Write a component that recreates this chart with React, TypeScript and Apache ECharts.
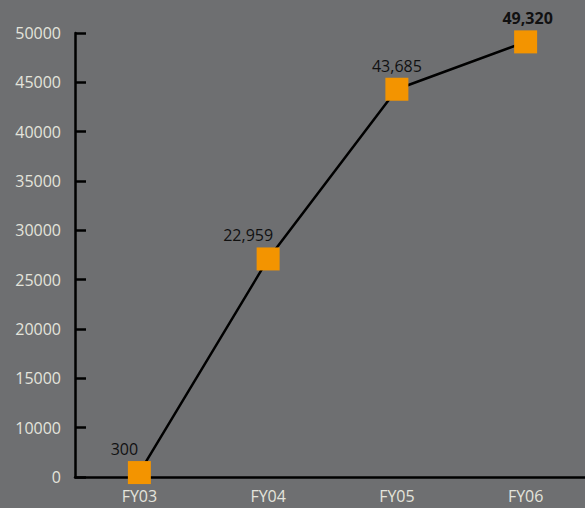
import React, { useEffect, useRef } from "react";
import * as echarts from "echarts";

const categories = ["FY03", "FY04", "FY05", "FY06"];
// values as plotted in the picture (on the source's uneven axis)
const values = [900, 27100, 44300, 49100];
const labelTexts = ["300", "22,959", "43,685", "49,320"];
const labelBold = [false, false, false, true];
const labelDx = [-15, -20, 0, 2];
// tick labels of the source axis: evenly spaced, 5000 skipped
const yTickLabels = [0, 10000, 15000, 20000, 25000, 30000, 35000, 40000, 45000, 50000];

// map a real value onto the evenly spaced tick index scale (each step = 1)
function toAxis(v: number): number {
  for (let i = 0; i < yTickLabels.length - 1; i++) {
    const a = yTickLabels[i];
    const b = yTickLabels[i + 1];
    if (v <= b || i === yTickLabels.length - 2) {
      return i + (v - a) / (b - a);
    }
  }
  return 0;
}

export default function App() {
  const ref = useRef<HTMLDivElement>(null);
  useEffect(() => {
    if (!ref.current) return;
    const chart = echarts.init(ref.current, null, { renderer: "svg" });
    const font = "'Open Sans', 'Noto Sans', sans-serif";
    chart.setOption({
      animation: false,
      backgroundColor: "#6e6f71",
      grid: { left: 75, right: 10, top: 33, bottom: 31, containLabel: false },
      xAxis: {
        type: "category",
        data: categories,
        boundaryGap: true,
        axisLine: { lineStyle: { color: "#000", width: 2.5 } },
        axisTick: { inside: true, length: 10, lineStyle: { color: "#000", width: 2.5 } },
        axisLabel: { color: "#e4e4dc", fontSize: 16, fontFamily: font, margin: 11 },
        splitLine: { show: false },
      },
      yAxis: {
        type: "value",
        min: 0,
        max: yTickLabels.length - 1,
        interval: 1,
        axisLine: { show: true, lineStyle: { color: "#000", width: 2.5 } },
        axisTick: {
          show: true,
          inside: true,
          length: 11,
          lineStyle: { color: "#000", width: 2.5 },
        },
        axisLabel: {
          color: "#e4e4dc",
          fontSize: 16,
          fontFamily: font,
          margin: 14,
          formatter: (v: number) => String(yTickLabels[Math.round(v)]),
        },
        splitLine: { show: false },
      },
      series: [
        {
          type: "line",
          data: values.map((v, i) => ({
            value: toAxis(v),
            label: {
              show: true,
              position: "top",
              distance: 4,
              offset: [labelDx[i], 0],
              formatter: () => labelTexts[i],
              color: "#111",
              fontSize: 16,
              fontFamily: font,
              fontWeight: labelBold[i] ? "bold" : "normal",
            },
          })),
          symbol: "rect",
          symbolSize: 23,
          itemStyle: { color: "#f39400" },
          lineStyle: { color: "#000", width: 2.5 },
          z: 3,
        },
      ],
    });
    return () => chart.dispose();
  }, []);
  return (
    <div
      style={{
        position: "fixed",
        left: 0,
        top: 0,
        width: 585,
        height: 508,
        overflow: "hidden",
      }}
    >
      <div ref={ref} style={{ width: 600, height: 508 }} />
    </div>
  );
}
